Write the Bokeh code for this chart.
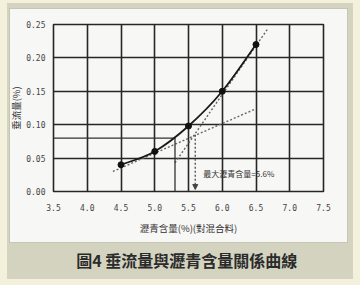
from bokeh.plotting import figure
from bokeh.models import (Label, Arrow, NormalHead, FixedTicker,
                          Range1d, CustomJSTickFormatter, Title)
from bokeh.embed import file_html
from bokeh.resources import INLINE

# Asphalt content (%) vs. drain-down (%)
asphalt = [4.5, 5.0, 5.5, 6.0, 6.5]
drain = [0.040, 0.060, 0.098, 0.150, 0.220]

# construction lines for locating the maximum asphalt content
tangent_low_x = [4.38, 6.48]
tangent_low_y = [0.030, 0.123]
tangent_high_x = [5.30, 6.67]
tangent_high_y = [0.043, 0.243]
read_x = [3.5, 5.3, 5.3]
read_y = [0.08, 0.08, 0.0]
max_asphalt = 5.6
max_asphalt_drain = 0.085

x_ticks = [3.5, 4.0, 4.5, 5.0, 5.5, 6.0, 6.5, 7.0, 7.5]
y_ticks = [0.00, 0.05, 0.10, 0.15, 0.20, 0.25]

CREAM = "#f3f1dc"
KHAKI = "#d3d3c0"
EDGE = "#c6c6b5"
PANEL = "#f7f7f5"
INK = "#262626"
CJK = "Noto Sans CJK TC"

p = figure(width=360, height=285, output_backend="svg", toolbar_location=None,
           x_range=Range1d(3.5, 7.5), y_range=Range1d(0, 0.25),
           min_border_left=53, min_border_right=37,
           min_border_top=24, min_border_bottom=94)

# page frame (cream page, khaki mount, white sheet) painted behind a
# transparent canvas border
p.border_fill_color = None
p.styles = {
    "background": (
        f"linear-gradient({PANEL},{PANEL}) 10px 9px / 337px 233px no-repeat, "
        f"linear-gradient({EDGE},{EDGE}) 9px 8px / 339px 235px no-repeat, "
        f"linear-gradient({KHAKI},{KHAKI}) 7px 3px / 346px 276px no-repeat, "
        f"{CREAM}"
    )
}
p.background_fill_color = PANEL
p.outline_line_color = INK
p.outline_line_width = 1.6

# grid
p.xaxis.ticker = FixedTicker(ticks=x_ticks)
p.yaxis.ticker = FixedTicker(ticks=y_ticks)
p.xgrid.grid_line_color = INK
p.ygrid.grid_line_color = INK
p.xgrid.grid_line_width = 1.6
p.ygrid.grid_line_width = 1.6
p.xgrid.grid_line_alpha = 1
p.ygrid.grid_line_alpha = 1

p.xaxis.formatter = CustomJSTickFormatter(code="return tick.toFixed(1);")
p.yaxis.formatter = CustomJSTickFormatter(code="return tick.toFixed(2);")

for ax in (p.xaxis, p.yaxis):
    ax.axis_line_color = None
    ax.major_tick_line_color = None
    ax.minor_tick_line_color = None
    ax.major_tick_out = 0
    ax.major_tick_in = 0
    ax.minor_tick_out = 0
    ax.major_label_text_font = "DejaVu Sans Mono"
    ax.major_label_text_font_size = "8px"
    ax.major_label_text_color = "#444444"
    ax.axis_label_text_font = CJK
    ax.axis_label_text_font_size = "9.5px"
    ax.axis_label_text_font_style = "normal"
    ax.axis_label_text_color = "#333333"

p.yaxis.major_label_standoff = 8
p.xaxis.major_label_standoff = 12
p.yaxis.axis_label = "垂流量(%)"
p.xaxis.axis_label = "瀝青含量(%)(對混合料)"
p.yaxis.axis_label_standoff = 0
p.xaxis.axis_label_standoff = 7

# caption under the chart
p.add_layout(Title(text="圖4  垂流量與瀝青含量關係曲線", align="center",
                   text_font=CJK, text_font_size="16px",
                   text_font_style="bold", text_color="#2b2b2b",
                   standoff=16), "below")

# construction lines
p.line(tangent_low_x, tangent_low_y, line_color="#666666", line_width=1.4,
       line_dash="2 2")
p.line(tangent_high_x, tangent_high_y, line_color="#666666", line_width=1.4,
       line_dash="2 2")
p.line(read_x, read_y, line_color="#333333", line_width=1.3)

# smooth curve through the measured points (Catmull-Rom as cubic Beziers)
n = len(asphalt)
x0, y0, x1, y1, cx0, cy0, cx1, cy1 = [], [], [], [], [], [], [], []
for i in range(n - 1):
    pa = (asphalt[max(i - 1, 0)], drain[max(i - 1, 0)])
    pb = (asphalt[i], drain[i])
    pc = (asphalt[i + 1], drain[i + 1])
    pd = (asphalt[min(i + 2, n - 1)], drain[min(i + 2, n - 1)])
    x0.append(pb[0]); y0.append(pb[1]); x1.append(pc[0]); y1.append(pc[1])
    cx0.append(pb[0] + (pc[0] - pa[0]) / 6); cy0.append(pb[1] + (pc[1] - pa[1]) / 6)
    cx1.append(pc[0] - (pd[0] - pb[0]) / 6); cy1.append(pc[1] - (pd[1] - pb[1]) / 6)
p.bezier(x0=x0, y0=y0, x1=x1, y1=y1, cx0=cx0, cy0=cy0, cx1=cx1, cy1=cy1,
         line_color="#1a1a1a", line_width=1.8)
p.scatter(asphalt, drain, size=6, fill_color="#111111", line_color="#111111")

# maximum asphalt content marker
p.add_layout(Arrow(end=NormalHead(size=5, fill_color="#444444", line_color="#444444"),
                   x_start=max_asphalt, y_start=max_asphalt_drain,
                   x_end=max_asphalt, y_end=0.003,
                   line_color="#555555", line_width=1.4, line_dash="2 2"))
p.add_layout(Label(x=5.72, y=0.027, text="最大瀝青含量=5.6%",
                   text_font=CJK, text_font_size="8px",
                   text_color="#333333", text_baseline="middle"))

open("out.html", "w").write(file_html(p, INLINE))
